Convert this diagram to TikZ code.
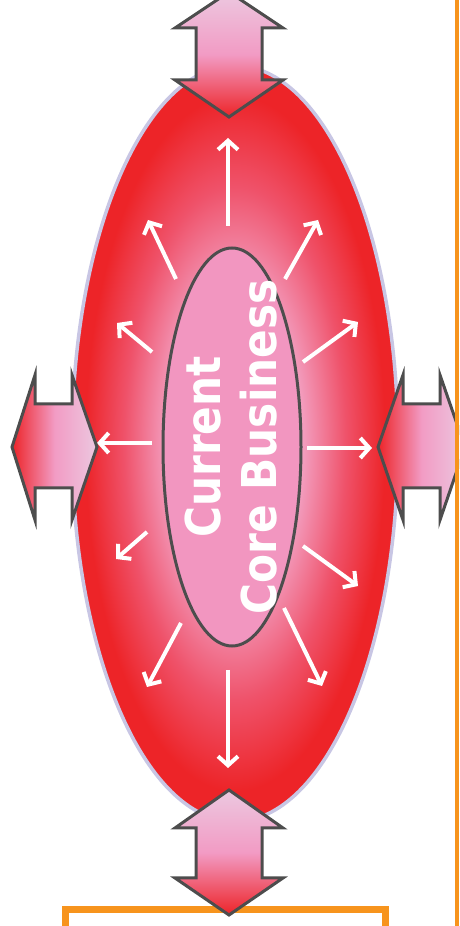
\documentclass[tikz,border=0pt]{standalone}
\usepackage{fontspec}
\usepackage{tikz}
\usepackage{xcolor}
\usetikzlibrary{arrows.meta}

\newfontfamily\labelfont[FakeStretch=0.88]{DejaVu Sans}

\definecolor{corered}{RGB}{237,36,40}
\definecolor{midred}{RGB}{239,82,106}
\definecolor{glowpink}{RGB}{243,162,196}
\definecolor{innerpink}{RGB}{242,150,192}
\definecolor{arrowlight}{RGB}{236,200,224}
\definecolor{arrowpink}{RGB}{242,155,196}
\definecolor{outlinegray}{RGB}{77,77,77}
\definecolor{lavender}{RGB}{200,198,228}
\definecolor{orangeline}{RGB}{247,148,29}

\pgfdeclareradialshading{coreglow}{\pgfpointorigin}{color(0bp)=(glowpink); color(10bp)=(glowpink); color(17bp)=(midred); color(23bp)=(corered); color(50bp)=(corered)}

\tikzset{
  blockarrow/.style={draw=outlinegray, line width=3pt, line join=miter},
  vshade/.style={top color=arrowlight, bottom color=corered, middle color=arrowpink},
  hshade/.style={left color=corered, right color=arrowlight, middle color=arrowpink},
  glowarrow/.style={white, line width=4pt, -{Straight Barb[length=9pt,width=20pt]}}
}

\begin{document}
\begin{tikzpicture}[x=1pt,y=1pt]

    \useasboundingbox (0,0) rectangle (459,926);
    \clip (0,0) rectangle (459,926);

    % Orange frame below
    \draw[orangeline, line width=7pt] (65.5,-20) -- (65.5,16.5) -- (385.5,16.5) -- (385.5,-20);

    % Outer glow
    \path[shade, shading=coreglow, draw=lavender, line width=3.5pt]
        (235,482.5) ellipse [x radius=163, y radius=378];

    % Radiating arrows
    \draw[glowarrow] (228,700) -- (228,788);
    \draw[glowarrow] (176,647) -- (148,706);
    \draw[glowarrow] (285,647) -- (318,706);
    \draw[glowarrow] (152,574) -- (117,603);
    \draw[glowarrow] (303,564) -- (358,604);
    \draw[glowarrow] (152,483) -- (97,483);
    \draw[glowarrow] (307,478) -- (372,478);
    \draw[glowarrow] (147,394) -- (116,367);
    \draw[glowarrow] (303,380) -- (358,340);
    \draw[glowarrow] (181,303) -- (147,239);
    \draw[glowarrow] (284,318) -- (322,240);
    \draw[glowarrow] (228,256) -- (228,158);

    % Core
    \draw[fill=innerpink, draw=outlinegray, line width=3pt]
        (232,479) ellipse [x radius=69, y radius=199];
    \node[text=white, rotate=90, align=center, inner sep=0pt,
          font=\labelfont\bfseries\fontsize{48}{56}\selectfont]
        (core) at (231,479) {Current\\Core Business};

    % Block arrows
    \path[blockarrow, vshade]
        (229,934) -- (283,898) -- (262,898) -- (262,846) -- (283,846) -- (229,809)
        -- (175,846) -- (196,846) -- (196,898) -- (175,898) -- cycle;
    \path[blockarrow, vshade]
        (229,136) -- (283,98) -- (262,98) -- (262,48) -- (283,48) -- (229,11)
        -- (175,48) -- (196,48) -- (196,98) -- (175,98) -- cycle;
    \path[blockarrow, hshade]
        (12,479) -- (35,551) -- (35,522) -- (72,522) -- (72,551) -- (97,479)
        -- (72,406) -- (72,438) -- (35,438) -- (35,406) -- cycle;
    \path[blockarrow, hshade]
        (378,479) -- (403,551) -- (403,522) -- (440,522) -- (440,551) -- (465,479)
        -- (440,406) -- (440,438) -- (403,438) -- (403,406) -- cycle;

    % Orange line at the right
    \draw[orangeline, line width=4pt] (457,-5) -- (457,931);

\end{tikzpicture}
\end{document}
